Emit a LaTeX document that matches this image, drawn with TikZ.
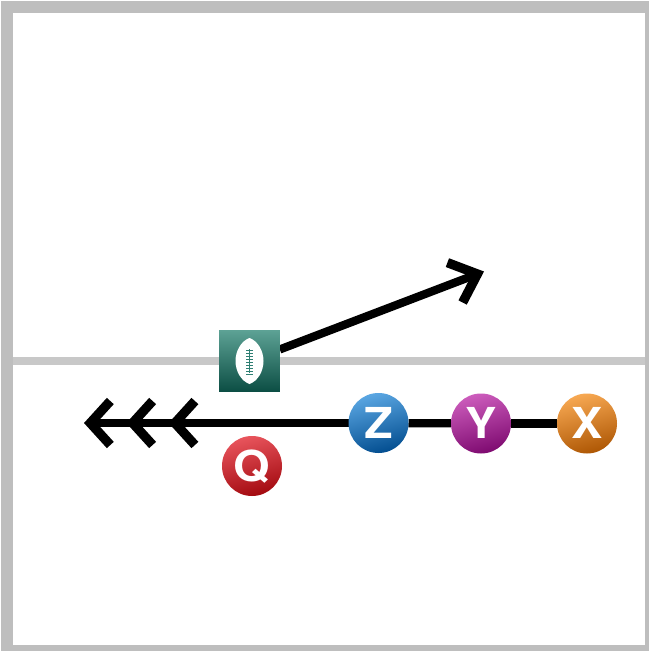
\documentclass[tikz,border=0pt]{standalone}
\usepackage{fontspec}
\setmainfont{Liberation Sans}
\newfontfamily\playerfont{TeX Gyre Heros}[FakeStretch=1.1]
\usetikzlibrary{arrows.meta,backgrounds}
\definecolor{framegrey}{HTML}{BEBEBE}
\definecolor{lacegreen}{HTML}{2F7F73}
\definecolor{zTop}{HTML}{5AA6E2}\definecolor{zBot}{HTML}{034E90}
\definecolor{yTop}{HTML}{CC5CBC}\definecolor{yBot}{HTML}{7E0A70}
\definecolor{xTop}{HTML}{F7A852}\definecolor{xBot}{HTML}{AE5704}
\definecolor{qTop}{HTML}{E8545C}\definecolor{qBot}{HTML}{A30A10}
\definecolor{bTop}{HTML}{5CA194}\definecolor{bBot}{HTML}{0C4E44}
\definecolor{losgrey}{HTML}{C8C8C8}
\tikzset{
  player/.style n args={2}{circle,draw=none,minimum size=45pt,inner sep=0pt,outer sep=0pt,
    top color=#1,bottom color=#2,shading angle=15,text=white,
    font=\playerfont\fontsize{32pt}{32pt}\selectfont\bfseries,
    text height=22.5pt,text depth=0pt,align=center},
  route/.style={draw=black,line width=6.2pt,line join=miter,line cap=butt},
}
\begin{document}
\begin{tikzpicture}[x=0.75pt,y=-0.75pt]
\useasboundingbox (0,0) rectangle (649,651);
% frame
\fill[framegrey] (0.8,0.8) rectangle (649,13);
\fill[framegrey] (0.8,0.8) rectangle (13,651);
\fill[framegrey] (645,0.8) rectangle (649,651);
\fill[framegrey] (0.8,645) rectangle (649,651);
% players
\node[player={zTop}{zBot}] (Z) at (378.5,423) {Z};
\node[player={yTop}{yBot}] (Y) at (481,423.5) {Y};
\node[player={xTop}{xBot}] (X) at (587,423.5) {X};
\node[player={qTop}{qBot}] (Q) at (252,466) {Q};
% ball carrier square
\node[minimum size=45.5pt,inner sep=0pt,outer sep=0pt,draw=none,top color=bTop,bottom color=bBot] (ball) at (249.5,361) {};
\fill[white] (249.5,338) .. controls (258,341) and (263.5,351) .. (263.5,361)
   .. controls (263.5,371) and (258,381) .. (249.5,384)
   .. controls (241,381) and (235.5,371) .. (235.5,361)
   .. controls (235.5,351) and (241,341) .. (249.5,338) -- cycle;
\draw[lacegreen,line width=1pt] (249.5,349) -- (249.5,373);
\foreach \ly in {350,353,...,374}
  \draw[lacegreen,line width=0.6pt] (246,\ly) -- (253,\ly);
% free route ends
\coordinate (routeEnd) at (484,271.5);
\coordinate (motionEnd) at (84,423);
\begin{scope}[on background layer]
  \fill[white] (0,0) rectangle (649,651);
  \fill[losgrey] (13,357) rectangle (645,365);
  \draw[route] (X) -- (Y);
  \draw[route] (Y) -- (Z);
  \draw[route,-{Straight Barb[length=18pt,width=32pt,line width=7pt]}] (ball) -- (routeEnd);
  \draw[route,-{Straight Barb[length=15pt,width=33pt,line width=7pt,sep=8.5pt]
      Straight Barb[length=15pt,width=33pt,line width=7pt,sep=8.5pt]
      Straight Barb[length=15pt,width=33pt,line width=7pt]}] (Z) -- (motionEnd);
\end{scope}
\end{tikzpicture}
\end{document}
